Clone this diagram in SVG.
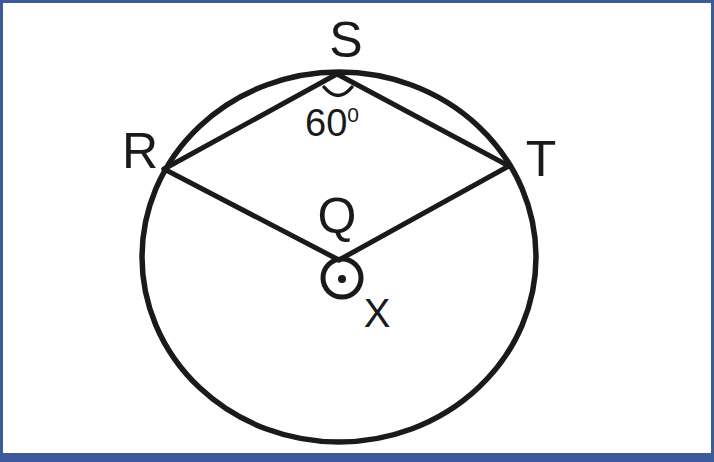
<svg xmlns="http://www.w3.org/2000/svg" width="714" height="462" viewBox="0 0 714 462">
<style>
.ln{stroke:#1a1a1a;stroke-width:5;fill:none;stroke-linecap:round;stroke-linejoin:round}
.lbl{font-family:"Liberation Sans",Arial,sans-serif;fill:#1a1a1a;text-anchor:middle}
</style>
<rect x="0" y="0" width="714" height="462" fill="#3d5a9c"/>
<rect x="3" y="3" width="708" height="450" fill="#ffffff"/>
<ellipse id="circle" cx="339" cy="257" rx="197" ry="185" class="ln" style="stroke-width:5.5"/>
<g id="connectors">
<line class="ln" x1="164" y1="169" x2="337" y2="74"/>
<line class="ln" x1="337" y1="74" x2="509" y2="166"/>
<line class="ln" x1="164" y1="169" x2="339" y2="260"/>
<line class="ln" x1="339" y1="260" x2="509" y2="166"/>
</g>
<g id="S">
<text class="lbl" x="346" y="57" font-size="50">S</text>
<path class="ln" d="M324,87 Q338,104 352,87" style="stroke-width:3.5"/>
<text class="lbl" x="332" y="136" font-size="38">60<tspan font-size="21" dy="-14">0</tspan></text>
</g>
<g id="R">
<text class="lbl" x="140" y="168" font-size="50">R</text>
</g>
<g id="T">
<text class="lbl" x="541" y="176" font-size="50">T</text>
</g>
<g id="Q">
<text class="lbl" x="337" y="233" font-size="50">Q</text>
<circle class="ln" cx="342" cy="278" r="19"/>
<circle cx="342" cy="279" r="4" fill="#1a1a1a"/>
<text class="lbl" x="377" y="327" font-size="40">X</text>
</g>
</svg>
